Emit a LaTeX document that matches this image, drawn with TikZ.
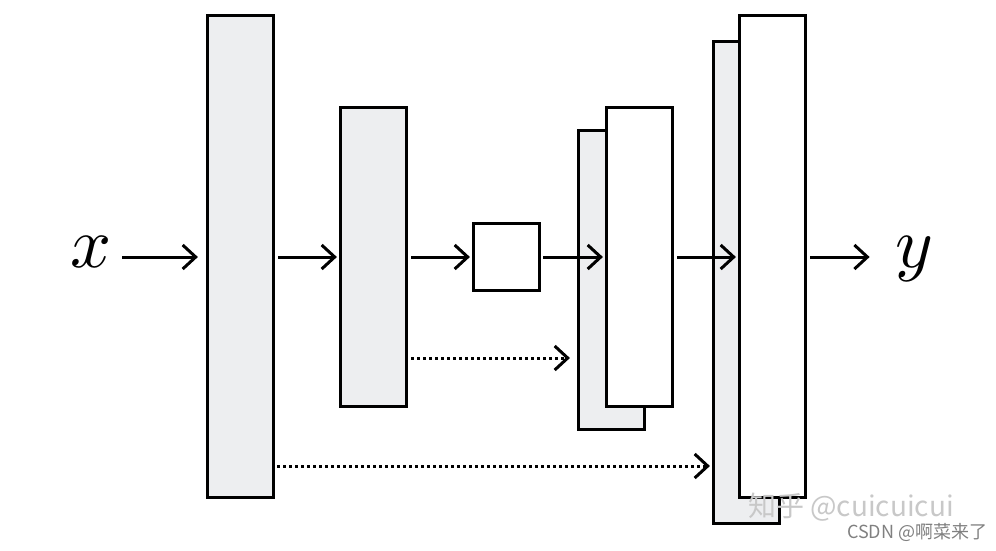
\documentclass[tikz,border=0pt]{standalone}
\usepackage{fontspec}
\newfontfamily\cjk{Noto Sans CJK SC}
\usetikzlibrary{arrows.meta}
\definecolor{boxgray}{RGB}{237,238,240}
\definecolor{wmgray}{RGB}{200,200,200}
\tikzset{
  blk/.style={draw=black, line width=3.2pt, rectangle, inner sep=0pt, minimum width=66pt},
  grayblk/.style={blk, fill=boxgray},
  whiteblk/.style={blk, fill=white},
  arr/.style={line width=3pt, -{Straight Barb[length=13pt,width=24pt,line width=3pt]}},
  darr/.style={arr, dash pattern=on 3pt off 3pt},
  lbl/.style={inner sep=0pt, anchor=base, scale=7.2}
}
\begin{document}
\begin{tikzpicture}[x=1pt,y=-1pt]
\useasboundingbox (0,0) rectangle (996,550);
% blocks
\node[grayblk, minimum height=482pt] (A) at (240.5,256.5) {};
\node[grayblk, minimum height=299pt] (B) at (373.5,257) {};
\node[whiteblk, minimum height=67pt] (C) at (506.5,257) {};
\node[grayblk, minimum height=299pt] (Db) at (611.5,280) {};
\node[whiteblk, minimum height=299pt] (Df) at (639.5,257) {};
\node[grayblk, minimum height=482pt] (Eb) at (746.5,282.5) {};
\node[whiteblk, minimum height=482pt] (Ef) at (772.5,256.5) {};
% labels
\node[lbl] (xl) at (91,267) {$x$};
\node[lbl] (yl) at (914,267) {$y$};
% main arrows
\coordinate (m) at (0,257);
\draw[arr] ([xshift=9pt]xl.east |- m) -- ([xshift=-8pt]A.west |- m);
\draw[arr] ([xshift=3pt]A.east |- m) -- ([xshift=-2pt]B.west |- m);
\draw[arr] ([xshift=3pt]B.east |- m) -- ([xshift=-2pt]C.west |- m);
\draw[arr] ([xshift=2pt]C.east |- m) -- ([xshift=-2pt]Df.west |- m);
\draw[arr] ([xshift=3pt]Df.east |- m) -- ([xshift=-2pt]Ef.west |- m);
\draw[arr] ([xshift=3pt]Ef.east |- m) -- ([xshift=-24pt]yl.west |- m);
% skip connections
\coordinate (s1) at (0,358);
\coordinate (s2) at (0,466);
\draw[darr] ([xshift=3pt]B.east |- s1) -- ([xshift=-7pt]Db.west |- s1);
\draw[darr] ([xshift=2pt]A.east |- s2) -- ([xshift=-2pt]Eb.west |- s2);
% watermark
\node[inner sep=0pt, anchor=base west, text=wmgray, font=\cjk\fontsize{28}{28}\selectfont] (wm1) at (748,516) {知乎 @cuicuicui};
\node[inner sep=0pt, anchor=base west, text=gray, font=\cjk\fontsize{18}{18}\selectfont] (wm2) at (847,538) {CSDN @啊菜来了};
\end{tikzpicture}
\end{document}
